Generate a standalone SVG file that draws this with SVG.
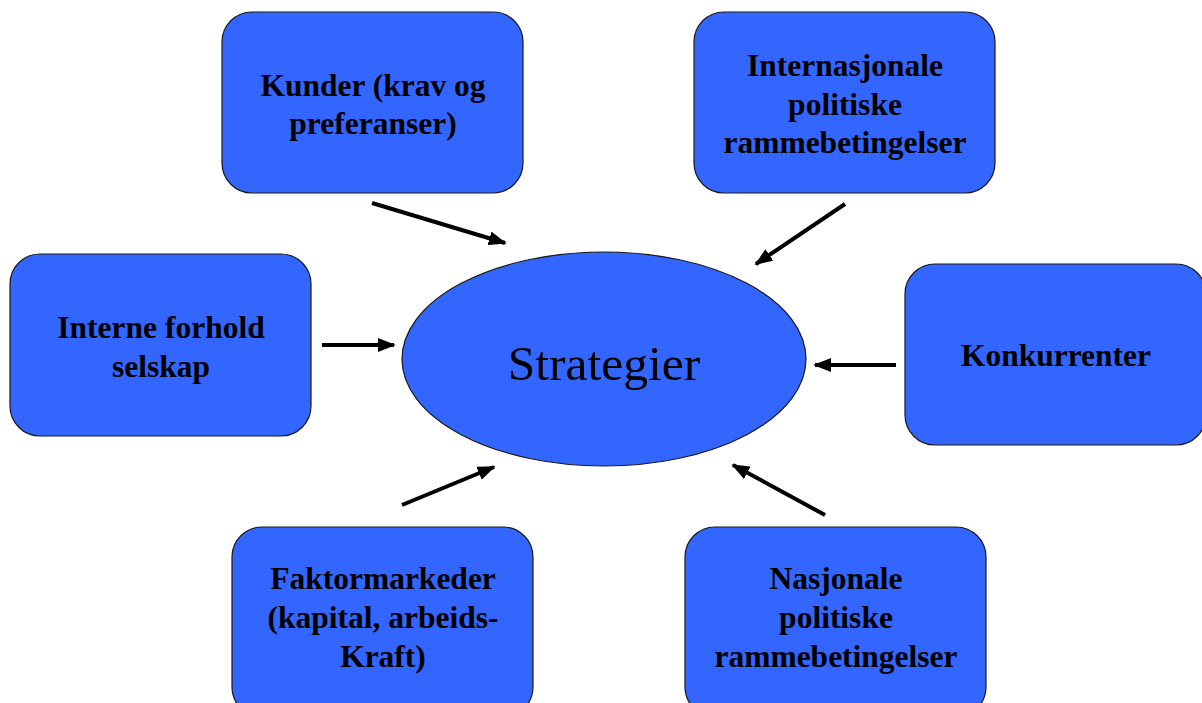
<svg xmlns="http://www.w3.org/2000/svg" width="1202" height="703" viewBox="0 0 1202 703">
<style>
.box{fill:#3366FF;stroke:#1a1a1a;stroke-width:1.2}
.t{font-family:"Liberation Serif",serif;font-weight:bold;font-size:31.5px;fill:#000;text-anchor:middle}
.c{stroke:#000;stroke-width:4;fill:none;marker-end:url(#ah)}
</style>
<defs>
<marker id="ah" viewBox="0 0 10 10" refX="9" refY="5" markerWidth="4.5" markerHeight="3.5" orient="auto" markerUnits="strokeWidth" preserveAspectRatio="none">
<path d="M0,0 L10,5 L0,10 z" fill="#000"/>
</marker>
</defs>
<rect width="1202" height="703" fill="#fff"/>
<g id="kunder"><rect class="box" x="222" y="12" width="301" height="181" rx="30"/>
<text class="t" x="373" y="96">Kunder (krav og</text><text class="t" x="373" y="134">preferanser)</text></g>
<g id="internasjonale"><rect class="box" x="694" y="12" width="301" height="181" rx="30"/>
<text class="t" x="845" y="76">Internasjonale</text><text class="t" x="845" y="115">politiske</text><text class="t" x="845" y="153">rammebetingelser</text></g>
<g id="interne"><rect class="box" x="10" y="254" width="301" height="182" rx="30"/>
<text class="t" x="161" y="338">Interne forhold</text><text class="t" x="161" y="377">selskap</text></g>
<g id="konkurrenter"><rect class="box" x="905" y="264" width="301" height="181" rx="30"/>
<text class="t" x="1056" y="366">Konkurrenter</text></g>
<g id="faktor"><rect class="box" x="232" y="527" width="301" height="190" rx="30"/>
<text class="t" x="383" y="589">Faktormarkeder</text><text class="t" x="383" y="628">(kapital, arbeids-</text><text class="t" x="383" y="667">Kraft)</text></g>
<g id="nasjonale"><rect class="box" x="685" y="527" width="301" height="190" rx="30"/>
<text class="t" x="836" y="589">Nasjonale</text><text class="t" x="836" y="628">politiske</text><text class="t" x="836" y="667">rammebetingelser</text></g>
<g id="strategier"><ellipse class="box" cx="604" cy="359" rx="202" ry="107"/>
<text x="604" y="380" font-family="Liberation Serif,serif" font-size="49.5" text-anchor="middle">Strategier</text></g>
<g id="connectors">
<line class="c" x1="372" y1="203" x2="505" y2="243"/>
<line class="c" x1="845" y1="204" x2="756" y2="264"/>
<line class="c" x1="322" y1="345" x2="394" y2="345"/>
<line class="c" x1="896" y1="365" x2="815" y2="365"/>
<line class="c" x1="402" y1="505" x2="494" y2="467"/>
<line class="c" x1="825" y1="515" x2="733" y2="465"/>
</g>
</svg>
